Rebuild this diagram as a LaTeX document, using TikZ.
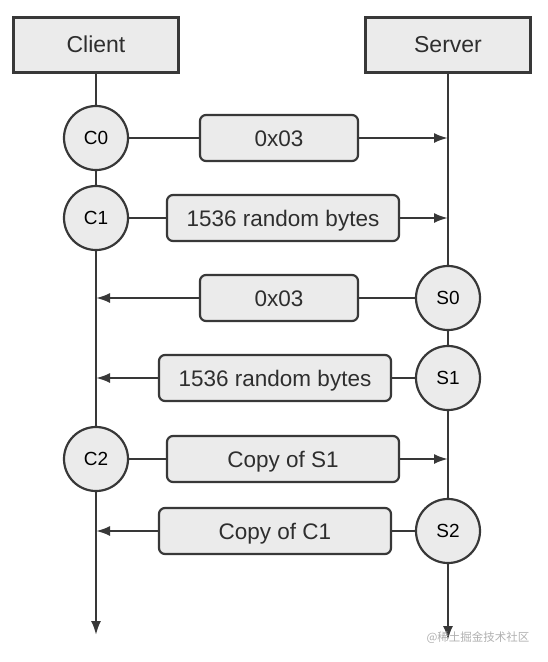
\documentclass[tikz,border=0pt]{standalone}
\usepackage{fontspec}
\setmainfont{Liberation Sans}
\newfontfamily\cjkfont{Noto Sans CJK SC}
\usetikzlibrary{arrows.meta}
\definecolor{boxfill}{HTML}{EBEBEB}
\definecolor{boxline}{HTML}{383838}
\definecolor{labeltext}{HTML}{2E2E2E}
\definecolor{markgray}{HTML}{B0B0B0}

\begin{document}
\begin{tikzpicture}[x=1pt,y=-1pt,
    party/.style={
% The shape:
rectangle,
% The size:
minimum width=165pt,
minimum height=55pt,
text height=16.5pt, text depth=0pt,
% The border:
line width=3pt, draw=boxline, fill=boxfill,
text=labeltext, font=\fontsize{23}{27}\selectfont,
},
    step point/.style={
% The shape:
circle,
% The size:
minimum size=64pt, inner sep=0pt,
text height=13.6pt, text depth=0pt,
% The border:
line width=2.2pt, draw=boxline, fill=boxfill,
font=\fontsize{19}{22}\selectfont,
},
    msg/.style={
% The shape:
rectangle, rounded corners=6pt,
% The size:
minimum width=#1,
minimum height=46pt,
text height=16.3pt, text depth=0pt,
% The border:
line width=2.2pt, draw=boxline, fill=boxfill,
text=labeltext, font=\fontsize{22.5}{27}\selectfont,
},
    link/.style={line width=2.2pt, draw=boxline},
    >={Latex[length=14pt,width=10pt]},
]
  \useasboundingbox (0,0) rectangle (547,662);

  \node[party]                  (client) at (96, 44.5) {Client};
  \node[party]                  (server) at (448, 44.5) {Server};

  \node[step point]             (C0) at (96, 138) {C0};
  \node[step point]             (C1) at (96, 218) {C1};
  \node[step point]             (C2) at (96, 459) {C2};
  \node[step point]             (S0) at (448, 298) {S0};
  \node[step point]             (S1) at (448, 378) {S1};
  \node[step point]             (S2) at (448, 531) {S2};

  \node[msg=158pt]              (m0) at (279, 138) {0x03};
  \node[msg=232pt]              (m1) at (283, 218) {1536 random bytes};
  \node[msg=158pt]              (m2) at (279, 298) {0x03};
  \node[msg=232pt]              (m3) at (275, 378) {1536 random bytes};
  \node[msg=232pt]              (m4) at (283, 459) {Copy of S1};
  \node[msg=232pt]              (m5) at (275, 531) {Copy of C1};

  \coordinate                   (toS0) at (448, 138);
  \coordinate                   (toS1) at (448, 218);
  \coordinate                   (toC2) at (96, 298);
  \coordinate                   (toC3) at (96, 378);
  \coordinate                   (toS4) at (448, 459);
  \coordinate                   (toC5) at (96, 531);
  \coordinate                   (cend) at (96, 635);
  \coordinate                   (send) at (448, 640);

  % life lines
  \draw[link] (client) -- (C0);
  \draw[link] (C0) -- (C1);
  \draw[link] (C1) -- (C2);
  \draw[link,->] (C2) -- (cend);
  \draw[link] (server) -- (S0);
  \draw[link] (S0) -- (S1);
  \draw[link] (S1) -- (S2);
  \draw[link,->] (S2) -- (send);

  % messages
  \draw[link] (C0) -- (m0);
  \draw[link,->] (m0) -- (toS0);
  \draw[link] (C1) -- (m1);
  \draw[link,->] (m1) -- (toS1);
  \draw[link] (S0) -- (m2);
  \draw[link,->] (m2) -- (toC2);
  \draw[link] (S1) -- (m3);
  \draw[link,->] (m3) -- (toC3);
  \draw[link] (C2) -- (m4);
  \draw[link,->] (m4) -- (toS4);
  \draw[link] (S2) -- (m5);
  \draw[link,->] (m5) -- (toC5);

  \node[text=markgray, font=\cjkfont\fontsize{11.5}{13}\selectfont]
    (mark) at (478, 638) {@稀土掘金技术社区};
\end{tikzpicture}
\end{document}
